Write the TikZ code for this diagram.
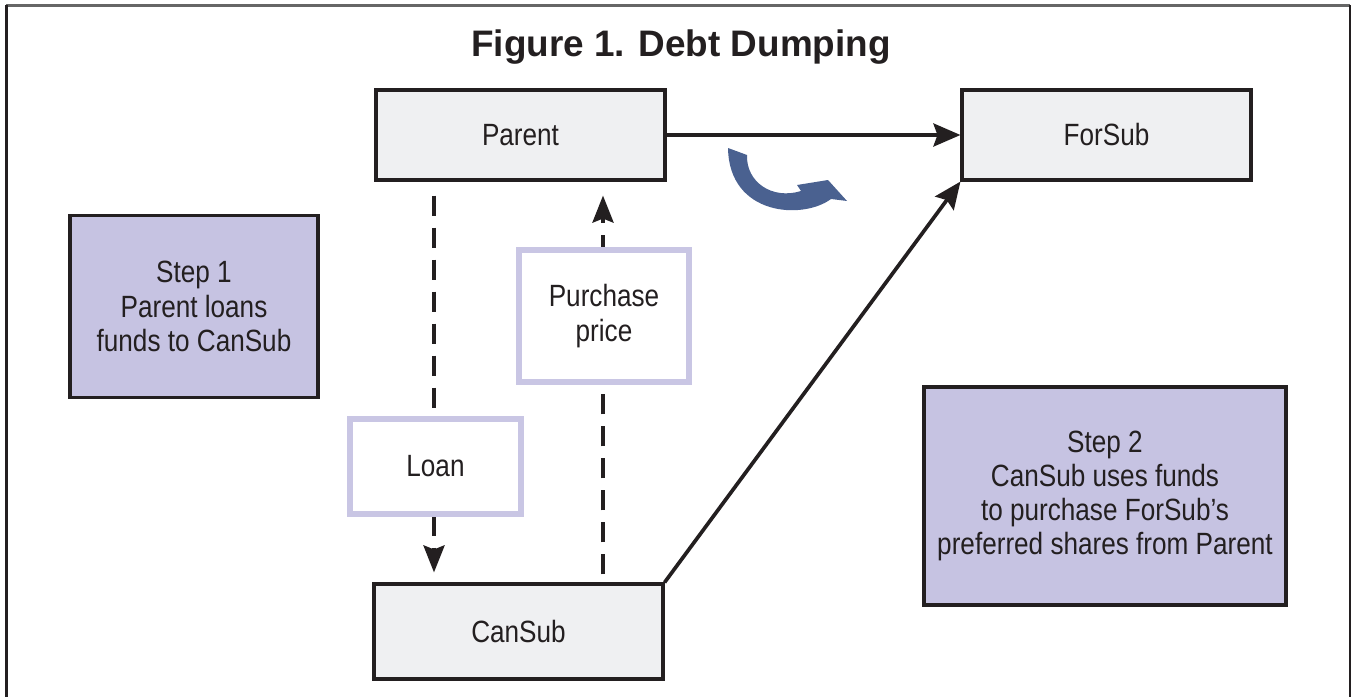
\documentclass[tikz,border=0pt]{standalone}
\usepackage{fontspec}
\setmainfont{Liberation Sans}[FakeStretch=0.85]
\newfontfamily\titlefont{Liberation Sans}
\usetikzlibrary{positioning,arrows.meta}

\definecolor{inkdark}{HTML}{231F20}
\definecolor{boxgrey}{HTML}{EFF0F2}
\definecolor{lavender}{HTML}{C6C3E2}
\definecolor{lavedge}{HTML}{C9C6E4}
\definecolor{swoosh}{HTML}{4A6190}

\begin{document}
\begin{tikzpicture}[x=0.02cm, y=-0.02cm,
    entity/.style={draw=inkdark, line width=1.8pt, fill=boxgrey, minimum width=5.78cm, minimum height=1.8cm, text=inkdark, font=\fontsize{17.5}{19.5}\selectfont},
    stepbox/.style={draw=inkdark, line width=1.8pt, fill=lavender, align=center, text=inkdark, font=\fontsize{17.5}{19.5}\selectfont},
    tagbox/.style={draw=lavedge, line width=2.9pt, fill=white, align=center, text=inkdark, font=\fontsize{17.5}{19.5}\selectfont},
    flow/.style={draw=inkdark, line width=2.1pt, -{Stealth[length=0.54cm, width=0.46cm, inset=0.08cm]}},
    cash/.style={draw=inkdark, line width=2.2pt, dash pattern=on 0.4cm off 0.24cm, -{Stealth[length=0.54cm, width=0.42cm, inset=0.08cm]}}]
    \useasboundingbox (0,0) rectangle (1351,696);
    \draw[gray!80!black, line width=1.2pt] (6,5.5) -- (1350,5.5);
    \draw[inkdark, line width=1.2pt] (6.5,5) -- (6.5,700);
    \draw[inkdark, line width=1.2pt] (1350,5) -- (1350,700);

    \node (Title) at (681,47) {\titlefont\bfseries\fontsize{21}{25}\selectfont\color{inkdark}Figure 1. Debt Dumping};

    \node (Parent) [entity] at (520.5,135) {Parent};
    \node (ForSub) [entity] at (1106.5,135) {ForSub};
    \node (CanSub) [entity, minimum height=1.9cm] at (518.5,631.5) {CanSub};

    \node (Step1) [stepbox, minimum width=4.96cm, minimum height=3.64cm] at (194,306.5)
    {Step 1\\Parent loans\\funds to CanSub};
    \node (Step2) [stepbox, minimum width=7.24cm, minimum height=4.36cm] at (1105,496)
    {Step 2\\CanSub uses funds\\to purchase ForSub's\\preferred shares from Parent};

    \draw[cash, shorten <=0.28cm, shorten >=0.2cm] (Parent.south -| 434,0) -- (CanSub.north -| 434,0);
    \draw[cash, shorten <=0.16cm, shorten >=0.28cm] (CanSub.north -| 603,0) -- (Parent.south -| 603,0);

    \node (Loan) [tagbox, minimum width=3.42cm, minimum height=1.9cm] at (435.5,466.5) {Loan};
    \node (Price) [tagbox, minimum width=3.4cm, minimum height=2.64cm] at (604,316) {Purchase\\price};

    \draw[flow] (Parent.east) -- (ForSub.west);
    \draw[flow] (CanSub.north east) -- (ForSub.south west);

    \fill[swoosh] (728,148) -- (747,155)
        .. controls (746,182) and (772,200) .. (801,191)
        -- (797,185) -- (828,180) -- (847,201) -- (831,199)
        .. controls (803,220) and (729,216) .. (728,148) -- cycle;
\end{tikzpicture}
\end{document}
